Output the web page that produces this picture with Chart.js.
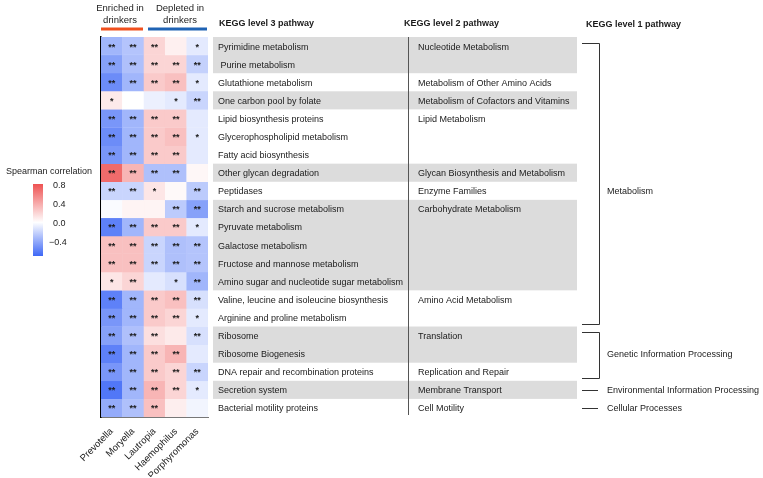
<!DOCTYPE html>
<html>
<head>
<meta charset="utf-8">
<script src="https://cdn.jsdelivr.net/npm/chart.js@4"></script>
<style>
  body { margin: 0; background: #fff; }
  canvas { display: block; }
</style>
</head>
<body>
<canvas id="heat" width="763" height="478"></canvas>
<script>
const genera = ["Prevotella", "Moryella", "Lautropia", "Haemophilus", "Porphyromonas"];

const pathways = [
  "Pyrimidine metabolism", " Purine metabolism", "Glutathione metabolism", "One carbon pool by folate",
  "Lipid biosynthesis proteins", "Glycerophospholipid metabolism", "Fatty acid biosynthesis",
  "Other glycan degradation", "Peptidases", "Starch and sucrose metabolism", "Pyruvate metabolism",
  "Galactose metabolism", "Fructose and mannose metabolism", "Amino sugar and nucleotide sugar metabolism",
  "Valine, leucine and isoleucine biosynthesis", "Arginine and proline metabolism", "Ribosome",
  "Ribosome Biogenesis", "DNA repair and recombination proteins", "Secretion system", "Bacterial motility proteins"
];

// spearman rho, one row per pathway, columns follow genera
const rho = [
  [-0.35, -0.28, 0.20, 0.07, -0.10],
  [-0.45, -0.30, 0.20, 0.20, -0.22],
  [-0.55, -0.35, 0.25, 0.30, -0.10],
  [0.10, 0.00, -0.07, -0.10, -0.20],
  [-0.50, -0.35, 0.25, 0.25, -0.10],
  [-0.55, -0.35, 0.25, 0.30, -0.10],
  [-0.50, -0.35, 0.25, 0.25, -0.10],
  [0.70, 0.35, -0.30, -0.30, 0.04],
  [-0.20, -0.20, 0.12, 0.03, -0.25],
  [-0.02, 0.05, 0.05, -0.25, -0.45],
  [-0.60, -0.35, 0.25, 0.25, -0.10],
  [0.30, 0.30, -0.20, -0.30, -0.28],
  [0.30, 0.30, -0.20, -0.30, -0.28],
  [0.12, 0.20, -0.10, -0.15, -0.35],
  [-0.60, -0.35, 0.25, 0.30, -0.15],
  [-0.50, -0.35, 0.25, 0.20, -0.10],
  [-0.45, -0.30, 0.15, 0.10, -0.15],
  [-0.60, -0.35, 0.25, 0.35, -0.10],
  [-0.50, -0.35, 0.25, 0.20, -0.20],
  [-0.65, -0.35, 0.35, 0.20, -0.10],
  [-0.40, -0.30, 0.30, 0.08, -0.05]
];

const stars = [
  ["**", "**", "**", "", "*"],
  ["**", "**", "**", "**", "**"],
  ["**", "**", "**", "**", "*"],
  ["*", "", "", "*", "**"],
  ["**", "**", "**", "**", ""],
  ["**", "**", "**", "**", "*"],
  ["**", "**", "**", "**", ""],
  ["**", "**", "**", "**", ""],
  ["**", "**", "*", "", "**"],
  ["", "", "", "**", "**"],
  ["**", "**", "**", "**", "*"],
  ["**", "**", "**", "**", "**"],
  ["**", "**", "**", "**", "**"],
  ["*", "**", "", "*", "**"],
  ["**", "**", "**", "**", "**"],
  ["**", "**", "**", "**", "*"],
  ["**", "**", "**", "", "**"],
  ["**", "**", "**", "**", ""],
  ["**", "**", "**", "**", "**"],
  ["**", "**", "**", "**", "*"],
  ["**", "**", "**", "", ""]
];

const level2Names = [
  "Nucleotide Metabolism", "Metabolism of Other Amino Acids", "Metabolism of Cofactors and Vitamins",
  "Lipid Metabolism", "Glycan Biosynthesis and Metabolism", "Enzyme Families", "Carbohydrate Metabolism",
  "Amino Acid Metabolism", "Translation", "Replication and Repair", "Membrane Transport", "Cell Motility"
];
const level2Rows = [[0, 1], [2, 2], [3, 3], [4, 6], [7, 7], [8, 8], [9, 13], [14, 15], [16, 17], [18, 18], [19, 19], [20, 20]];

const level1Names = ["Metabolism", "Genetic Information Processing", "Environmental Information Processing", "Cellular Processes"];
const level1Rows = [[0, 15], [16, 18], [19, 19], [20, 20]];
const level1LabelRow = [8, 17, 19, 20];

const legendTicks = [0.8, 0.4, 0.0, -0.4];
const rhoMin = -0.72;
const rhoMax = 0.82;

const FONT = "'Liberation Sans', Arial, sans-serif";
const BLUE = [62, 104, 246];
const RED = [238, 82, 82];

const rhoColor = (v) => {
  const c = v >= 0 ? RED : BLUE;
  const t = Math.min(1, v >= 0 ? v / rhoMax : v / rhoMin);
  const mix = c.map((k) => Math.round(255 + (k - 255) * t));
  return `rgb(${mix[0]}, ${mix[1]}, ${mix[2]})`;
};

const datasets = pathways.map((name, r) => ({
  label: name,
  data: genera.map(() => [r, r + 1]),
  backgroundColor: rho[r].map(rhoColor),
  borderColor: rho[r].map(rhoColor),
  borderWidth: 0.6,
  borderSkipped: false,
  grouped: false,
  categoryPercentage: 1,
  barPercentage: 1
}));

const decor = {
  id: "decor",
  afterDatasetsDraw(chart) {
    const ctx = chart.ctx;
    ctx.save();
    ctx.fillStyle = "#1a1a1a";
    ctx.font = `bold 9px ${FONT}`;
    ctx.textAlign = "center";
    ctx.textBaseline = "middle";
    chart.data.datasets.forEach((ds, r) => {
      chart.getDatasetMeta(r).data.forEach((bar, c) => {
        const s = stars[r][c];
        if (!s) return;
        const p = bar.getProps(["x", "y", "base"], true);
        ctx.fillText(s, p.x, (p.y + p.base) / 2 + 1);
      });
    });
    ctx.restore();
  },
  afterDraw(chart) {
    const ctx = chart.ctx;
    const y = chart.scales.y;
    const top = (r) => y.getPixelForValue(r);
    const mid = (r) => y.getPixelForValue(r + 0.5);
    ctx.save();

    // group headers above the heatmap
    ctx.fillStyle = "#222";
    ctx.font = `9.5px ${FONT}`;
    ctx.textAlign = "center";
    ctx.textBaseline = "middle";
    ctx.fillText("Enriched in", 120, 8);
    ctx.fillText("drinkers", 120, 20);
    ctx.fillText("Depleted in", 180, 8);
    ctx.fillText("drinkers", 180, 20);
    ctx.lineWidth = 3;
    ctx.strokeStyle = "#f0501e";
    ctx.beginPath(); ctx.moveTo(101, 29); ctx.lineTo(143, 29); ctx.stroke();
    ctx.strokeStyle = "#1f63b4";
    ctx.beginPath(); ctx.moveTo(148, 29); ctx.lineTo(207, 29); ctx.stroke();

    // gray bands for alternating level 2 groups
    ctx.fillStyle = "#dcdcdc";
    level2Rows.forEach(([a, b], i) => {
      if (i % 2 === 0 && i !== 10) ctx.fillRect(213, top(a), 364, top(b + 1) - top(a));
    });
    ctx.fillRect(213, top(19), 364, top(20) - top(19));

    ctx.strokeStyle = "#555";
    ctx.lineWidth = 1;
    ctx.beginPath(); ctx.moveTo(408.5, top(0)); ctx.lineTo(408.5, top(21) - 2); ctx.stroke();

    ctx.font = `bold 9px ${FONT}`;
    ctx.fillStyle = "#1a1a1a";
    ctx.textAlign = "left";
    ctx.fillText("KEGG level 3 pathway", 219, 24);
    ctx.fillText("KEGG level 2 pathway", 404, 24);
    ctx.fillText("KEGG level 1 pathway", 586, 25);

    ctx.font = `9px ${FONT}`;
    pathways.forEach((name, r) => ctx.fillText(name, 218, mid(r) + 1));
    level2Names.forEach((name, i) => ctx.fillText(name, 418, mid(level2Rows[i][0]) + 1));

    // level 1 brackets
    ctx.strokeStyle = "#333";
    level1Rows.forEach(([a, b], i) => {
      ctx.beginPath();
      if (a === b) {
        ctx.moveTo(582, Math.round(mid(a)) + 0.5); ctx.lineTo(598, Math.round(mid(a)) + 0.5);
      } else {
        const y0 = Math.round(top(a)) + (a === 0 ? 6.5 : 5.5);
        const y1 = Math.round(top(b + 1)) - 2.5;
        ctx.moveTo(582, y0); ctx.lineTo(599.5, y0); ctx.lineTo(599.5, y1); ctx.lineTo(582, y1);
      }
      ctx.stroke();
      ctx.fillText(level1Names[i], 607, mid(level1LabelRow[i]) + 1);
    });

    // colour bar legend
    const barTop = 184, barBottom = 256;
    const toY = (v) => barTop + (rhoMax - v) / (rhoMax - rhoMin) * (barBottom - barTop);
    const grad = ctx.createLinearGradient(0, barTop, 0, barBottom);
    [rhoMax, 0.4, 0, -0.4, rhoMin].forEach((v) => grad.addColorStop((toY(v) - barTop) / (barBottom - barTop), rhoColor(v)));
    ctx.fillStyle = grad;
    ctx.fillRect(33, barTop, 10, barBottom - barTop);
    ctx.fillStyle = "#222";
    ctx.font = `9px ${FONT}`;
    ctx.textAlign = "center";
    ctx.fillText("Spearman correlation", 49, 172);
    ctx.textAlign = "left";
    legendTicks.forEach((v) => {
      const txt = v < 0 ? "\u2212" + Math.abs(v).toFixed(1) : v.toFixed(1);
      ctx.fillText(txt, v < 0 ? 49 : 53, toY(v) + 1);
    });
    ctx.restore();
  }
};

new Chart(document.getElementById("heat"), {
  type: "bar",
  data: { labels: genera, datasets: datasets },
  options: {
    responsive: false,
    animation: false,
    events: [],
    layout: { padding: { left: 99, right: 555, top: 37, bottom: 1 } },
    plugins: { legend: { display: false }, tooltip: { enabled: false } },
    scales: {
      x: {
        grid: { display: false },
        border: { color: "#777", width: 1 },
        ticks: { color: "#222", font: { family: FONT, size: 9.5 }, minRotation: 45, maxRotation: 45, padding: 1 },
        afterFit: (s) => { s.height = 60; }
      },
      y: {
        min: 0,
        max: 21,
        reverse: true,
        grid: { display: false },
        border: { color: "#000", width: 1.5 },
        ticks: { display: false },
        afterFit: (s) => { s.width = 2; }
      }
    }
  },
  plugins: [decor]
});
</script>
</body>
</html>
